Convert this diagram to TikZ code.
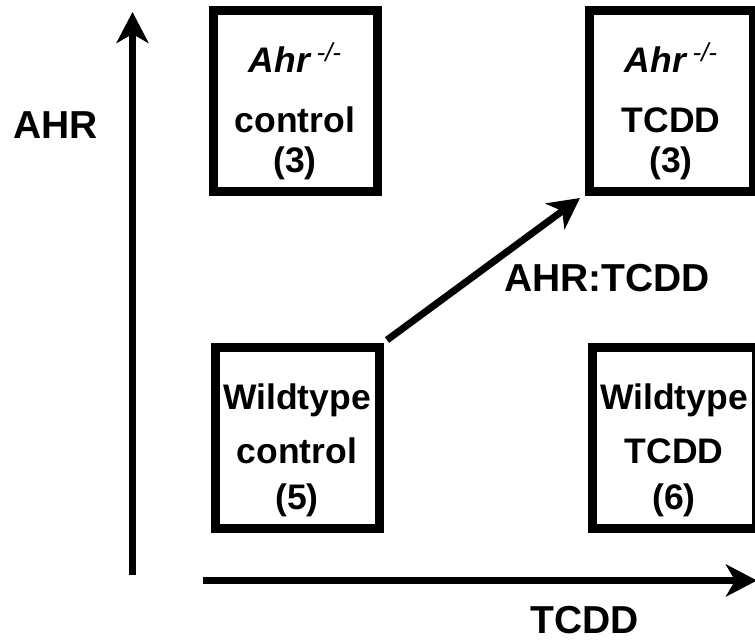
\documentclass[tikz,border=0pt]{standalone}
\usepackage{fontspec}
\setmainfont{Liberation Sans}
\usetikzlibrary{arrows.meta}
\begin{document}
\begin{tikzpicture}[x=1pt,y=-1pt,
  box/.style={draw, line width=9pt, minimum width=164pt, minimum height=181pt, inner sep=0pt},
  txt/.style={font=\fontsize{35.5}{42}\selectfont\bfseries, inner sep=0pt, anchor=base},
  axlab/.style={font=\fontsize{39}{46}\selectfont\bfseries, inner sep=0pt, anchor=base},
  ax/.style={line width=7pt, -{Stealth[length=31pt,width=32pt,inset=9pt]}}
]
\useasboundingbox (0,0) rectangle (755,640);
\newcommand{\ahrko}{\textit{Ahr}\hspace{5pt}{\fontsize{26}{26}\selectfont\mdseries\itshape\raisebox{11pt}{-/-}}}
% boxes
\node[box] (tl) at (295,101) {};
\node[box] (tr) at (671,101) {};
\node[box] (bl) at (297,437.5) {};
\node[box] (br) at (674,437.5) {};
% box texts
\node[txt] (tl1) at (295,72) {\ahrko};
\node[txt] (tl2) at (295,132) {control};
\node[txt] (tl3) at (295,172) {(3)};
\node[txt] (tr1) at (671,72) {\ahrko};
\node[txt] (tr2) at (671,132) {TCDD};
\node[txt] (tr3) at (671,172) {(3)};
\node[txt] (bl1) at (297,409) {Wildtype};
\node[txt] (bl2) at (297,463) {control};
\node[txt] (bl3) at (297,509) {(5)};
\node[txt] (br1) at (674,409) {Wildtype};
\node[txt] (br2) at (674,463) {TCDD};
\node[txt] (br3) at (674,509) {(6)};
% axes
\coordinate (yb) at (132.5,575);
\coordinate (yt) at (132.5,12);
\coordinate (xl) at (203,580.5);
\coordinate (xr) at (757,580.5);
\draw[ax] (yb) -- (yt);
\draw[ax] (xl) -- (xr);
\node[axlab] (ylab) at (55.5,138) {AHR};
\node[axlab] (xlab) at (584.5,633) {TCDD};
% diagonal
\draw[ax] ([shift={(3.5,-2.5)}]bl.north east) -- ([shift={(-4.5,2)}]tr.south west);
\node[axlab] (dlab) at (607,291) {AHR:TCDD};
\end{tikzpicture}
\end{document}
